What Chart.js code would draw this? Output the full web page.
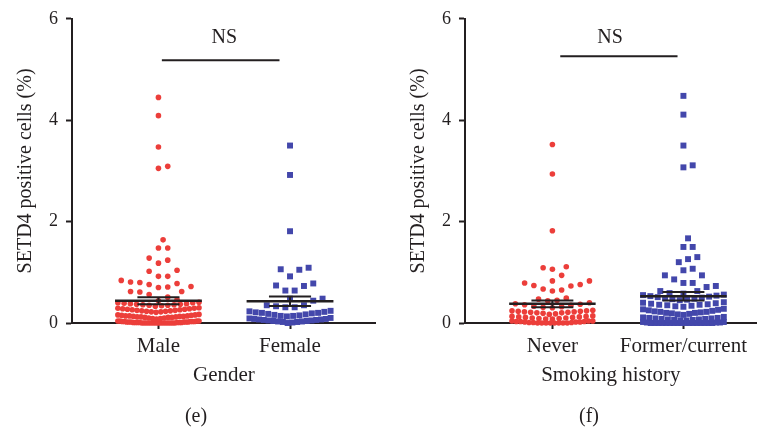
<!DOCTYPE html>
<html>
<head>
<meta charset="utf-8">
<script src="https://cdn.jsdelivr.net/npm/chart.js@4.4.1/dist/chart.umd.min.js"></script>
<style>
  html, body { margin: 0; padding: 0; background: #fff; }
  #wrap { position: relative; width: 761px; height: 430px; }
  .panel { position: absolute; top: 0; height: 430px; }
</style>
</head>
<body>
<div id="wrap">
  <div class="panel" style="left:0;width:380px"><canvas id="chartE"></canvas></div>
  <div class="panel" style="left:380px;width:381px"><canvas id="chartF"></canvas></div>
</div>
<script>
'use strict';

// panel (e): gender
const genderLabels = ['Male', 'Female'];
const male = [
  4.45, 4.09, 3.47, 3.05, 3.09,
  1.64, 1.48, 1.48, 1.24, 1.28, 1.18, 1.04, 1.02,
  0.92, 0.92, 0.84, 0.80, 0.76, 0.78, 0.81, 0.71, 0.70, 0.72,
  0.62, 0.62, 0.56, 0.61, 0.51, 0.46, 0.44,
  0.41, 0.40, 0.40, 0.39, 0.38, 0.38, 0.37, 0.37, 0.36, 0.36, 0.35, 0.35, 0.34, 0.33,
  0.30, 0.29, 0.29, 0.28, 0.28, 0.27, 0.27, 0.26, 0.26, 0.25, 0.25, 0.24, 0.24, 0.23, 0.23, 0.22, 0.22, 0.21,
  0.17, 0.16, 0.16, 0.15, 0.15, 0.14, 0.14, 0.14, 0.13, 0.13, 0.13, 0.12, 0.12, 0.12,
  0.11, 0.11, 0.11, 0.10, 0.10, 0.09, 0.09, 0.08,
  0.04, 0.04, 0.04, 0.04, 0.03, 0.03, 0.03, 0.03, 0.03, 0.02, 0.02, 0.02, 0.02, 0.02, 0.02,
  0.01, 0.01, 0.01, 0.01, 0.01, 0.01, 0.01,
  0.00, 0.00, 0.00, 0.00, 0.00, 0.00, 0.00, 0.00, 0.00, 0.00, 0.00, 0.00, 0.00, 0.00, 0.00, 0.00
];
const female = [
  3.50, 2.92, 1.81, 1.06, 1.05, 1.09, 0.92,
  0.74, 0.64, 0.64, 0.73, 0.78, 0.48, 0.44, 0.48,
  0.35, 0.35, 0.33, 0.31, 0.31,
  0.24, 0.23, 0.22, 0.21, 0.20, 0.20, 0.19, 0.18, 0.17, 0.16, 0.15, 0.14, 0.14, 0.13,
  0.10, 0.09, 0.08, 0.08, 0.07, 0.07, 0.06, 0.06, 0.05, 0.05, 0.04, 0.04, 0.03, 0.03,
  0.02, 0.02, 0.01, 0.00
];

// panel (f): smoking history
const smokingLabels = ['Never', 'Former/current'];
const never = [
  3.52, 2.94, 1.82, 1.09, 1.06, 1.11, 0.94, 0.83, 0.83, 0.79,
  0.76, 0.73, 0.65, 0.63, 0.67, 0.74, 0.49, 0.45, 0.44, 0.40, 0.47,
  0.35, 0.37, 0.36, 0.38, 0.33, 0.32, 0.31, 0.30,
  0.25, 0.24, 0.24, 0.23, 0.23, 0.22, 0.22, 0.21, 0.21, 0.20, 0.20, 0.19, 0.18, 0.17,
  0.14, 0.13, 0.13, 0.12, 0.12, 0.11, 0.11, 0.10, 0.10, 0.09, 0.09, 0.08, 0.08,
  0.04, 0.04, 0.04, 0.03, 0.03, 0.03, 0.02, 0.02, 0.02, 0.01, 0.01, 0.01,
  0.00, 0.00, 0.00, 0.00, 0.00, 0.00, 0.00, 0.00
];
const former = [
  4.48, 4.11, 3.50, 3.07, 3.11,
  1.67, 1.50, 1.50, 1.26, 1.30, 1.20, 1.07, 1.04,
  0.94, 0.94, 0.86, 0.79, 0.79, 0.71, 0.63, 0.59, 0.63, 0.73,
  0.58, 0.56, 0.55, 0.54, 0.53, 0.52, 0.51, 0.50, 0.49, 0.48, 0.47, 0.46, 0.45,
  0.41, 0.40, 0.39, 0.38, 0.37, 0.36, 0.36, 0.35, 0.34, 0.33, 0.32,
  0.28, 0.27, 0.26, 0.25, 0.24, 0.23, 0.22, 0.22, 0.21, 0.20, 0.20, 0.19, 0.18, 0.17, 0.16,
  0.12, 0.11, 0.10, 0.10, 0.09, 0.09, 0.08, 0.08, 0.07, 0.07, 0.06, 0.06, 0.05, 0.05,
  0.02, 0.02, 0.01, 0.01, 0.01,
  0.00, 0.00, 0.00, 0.00, 0.00, 0.00, 0.00, 0.00, 0.00, 0.00, 0.00, 0.00, 0.00, 0.00, 0.00, 0.00, 0.00
];

const yTicks = [0, 2, 4, 6];

const RED = '#ec3e3a';
const BLUE = '#4347ab';
const INK = '#231f20';
const FONT = "'Liberation Serif', 'DejaVu Serif', serif";

// dot spreading: crowded rows are laid side by side across the column,
// the rest is swarmed on a slot grid around them
const PX_X = 133, PX_Y = 51.2;
const DOT_GAP = 9.4, SLOT = 4.7, MAX_SLOT = 9, HALF_W = 41;
const ROW_GAP = 0.025, ROW_SPAN = 0.125, ROW_MIN = 8;

function rowsOf(sorted) {
  const rows = [];
  let cur = null;
  sorted.forEach(v => {
    if (!cur || v - cur[cur.length - 1] > ROW_GAP || v - cur[0] > ROW_SPAN) {
      cur = [];
      rows.push(cur);
    }
    cur.push(v);
  });
  return rows;
}

function spread(vals, center) {
  const sorted = vals.slice().sort((a, b) => a - b);
  const placed = [];
  const loose = [];
  rowsOf(sorted).forEach(row => {
    if (row.length < ROW_MIN) { loose.push(...row); return; }
    const n = row.length;
    const sp = Math.min(DOT_GAP, 2 * HALF_W / (n - 1));
    const offs = [];
    for (let j = 0; j < n; j++) offs.push((j - (n - 1) / 2) * sp);
    offs.sort((a, b) => Math.abs(a) - Math.abs(b));
    row.forEach((v, i) => placed.push({ x: offs[i], y: v * PX_Y }));
  });
  const slots = [0];
  for (let k = 1; k <= MAX_SLOT; k++) slots.push(k * SLOT, -k * SLOT);
  loose.forEach(v => {
    const py = v * PX_Y;
    let best = 0, bestD = -1;
    for (const sx of slots) {
      let dmin = Infinity;
      for (const p of placed) {
        const d = Math.hypot(p.x - sx, p.y - py);
        if (d < dmin) dmin = d;
      }
      if (dmin >= DOT_GAP) { best = sx; break; }
      if (dmin > bestD + 1e-9) { bestD = dmin; best = sx; }
    }
    placed.push({ x: best, y: py });
  });
  return placed.map(p => ({ x: center + p.x / PX_X, y: p.y / PX_Y }));
}

function meanSem(vals) {
  const n = vals.length;
  const m = vals.reduce((a, b) => a + b, 0) / n;
  const sd = Math.sqrt(vals.reduce((a, v) => a + (v - m) * (v - m), 0) / (n - 1));
  return { m: m, sem: sd / Math.sqrt(n) };
}

function seg(data, w) {
  return {
    type: 'line', data: data, borderColor: INK, borderWidth: w,
    pointRadius: 0, showLine: true, clip: false, order: 0
  };
}

function summaryLines(vals, c) {
  const s = meanSem(vals);
  return [
    seg([{ x: c - 0.33, y: s.m }, { x: c + 0.33, y: s.m }], 2.5),
    seg([{ x: c, y: s.m - s.sem }, { x: c, y: s.m + s.sem }], 2),
    seg([{ x: c - 0.16, y: s.m + s.sem }, { x: c + 0.16, y: s.m + s.sem }], 2),
    seg([{ x: c - 0.16, y: s.m - s.sem }, { x: c + 0.16, y: s.m - s.sem }], 2)
  ];
}

const labelPlugin = {
  id: 'extraText',
  afterDraw(chart, args, o) {
    const ctx = chart.ctx;
    const xs = chart.scales.x, ys = chart.scales.y;
    ctx.save();
    ctx.fillStyle = INK;
    ctx.textAlign = 'center';
    ctx.textBaseline = 'middle';
    ctx.font = '20px ' + FONT;
    ctx.fillText('NS', xs.getPixelForValue(o.nsX), ys.getPixelForValue(o.nsY));
    ctx.fillText(o.caption, o.capX, o.capY);
    ctx.restore();
  }
};

function makePanel(id, cats, groups, colors, shapes, radii, opt) {
  const datasets = [];
  groups.forEach((g, i) => datasets.push(...summaryLines(g, i)));
  datasets.push(seg([{ x: opt.barFrom, y: opt.barY }, { x: opt.barTo, y: opt.barY }], 2));
  groups.forEach((g, i) => datasets.push({
    type: 'scatter', data: spread(g, i), backgroundColor: colors[i],
    borderWidth: 0, pointStyle: shapes[i], pointRadius: radii[i],
    pointHoverRadius: radii[i], clip: false, order: 1
  }));

  return new Chart(document.getElementById(id), {
    type: 'scatter',
    data: { datasets: datasets },
    plugins: [labelPlugin],
    options: {
      responsive: true,
      maintainAspectRatio: false,
      animation: false,
      layout: { padding: { top: 16, left: opt.padLeft, right: 0, bottom: 42 } },
      plugins: {
        legend: { display: false },
        tooltip: { enabled: false },
        extraText: { nsX: opt.nsX, nsY: 5.63, caption: opt.caption, capX: opt.capX, capY: 417 }
      },
      scales: {
        x: {
          type: 'linear', min: opt.xMin, max: opt.xMax,
          afterBuildTicks: s => { s.ticks = cats.map((c, i) => ({ value: i })); },
          afterFit: s => { s.height = 65; },
          ticks: {
            callback: v => cats[v], color: INK, padding: 5,
            font: { family: FONT, size: 21 }, maxRotation: 0, autoSkip: false
          },
          grid: { drawOnChartArea: false, tickLength: 6, tickWidth: 2, tickColor: INK },
          border: { color: INK, width: 2 },
          title: { display: true, text: opt.xTitle, color: INK, font: { family: FONT, size: 21 }, padding: { top: 0, bottom: 0 } }
        },
        y: {
          min: 0, max: 6,
          afterBuildTicks: s => { s.ticks = yTicks.map(v => ({ value: v })); },
          afterFit: s => { s.width = 72; },
          ticks: { color: INK, padding: 8, font: { family: FONT, size: 18 } },
          grid: { drawOnChartArea: false, tickLength: 6, tickWidth: 2, tickColor: INK },
          border: { color: INK, width: 2 },
          title: { display: true, text: 'SETD4 positive cells (%)', color: INK, font: { family: FONT, size: 20 }, padding: { top: 14, bottom: 0 } }
        }
      }
    }
  });
}

makePanel('chartE', genderLabels, [male, female], [RED, BLUE], ['circle', 'rect'], [2.8, 4.2], {
  xMin: -0.657, xMax: 1.652, padLeft: 0, xTitle: 'Gender',
  barFrom: 0.026, barTo: 0.92, barY: 5.18, nsX: 0.5, caption: '(e)', capX: 196
});
makePanel('chartF', smokingLabels, [never, former], [RED, BLUE], ['circle', 'rect'], [2.8, 4.2], {
  xMin: -0.667, xMax: 1.56, padLeft: 13, xTitle: 'Smoking history',
  barFrom: 0.06, barTo: 0.955, barY: 5.26, nsX: 0.44, caption: '(f)', capX: 209
});
</script>
</body>
</html>
